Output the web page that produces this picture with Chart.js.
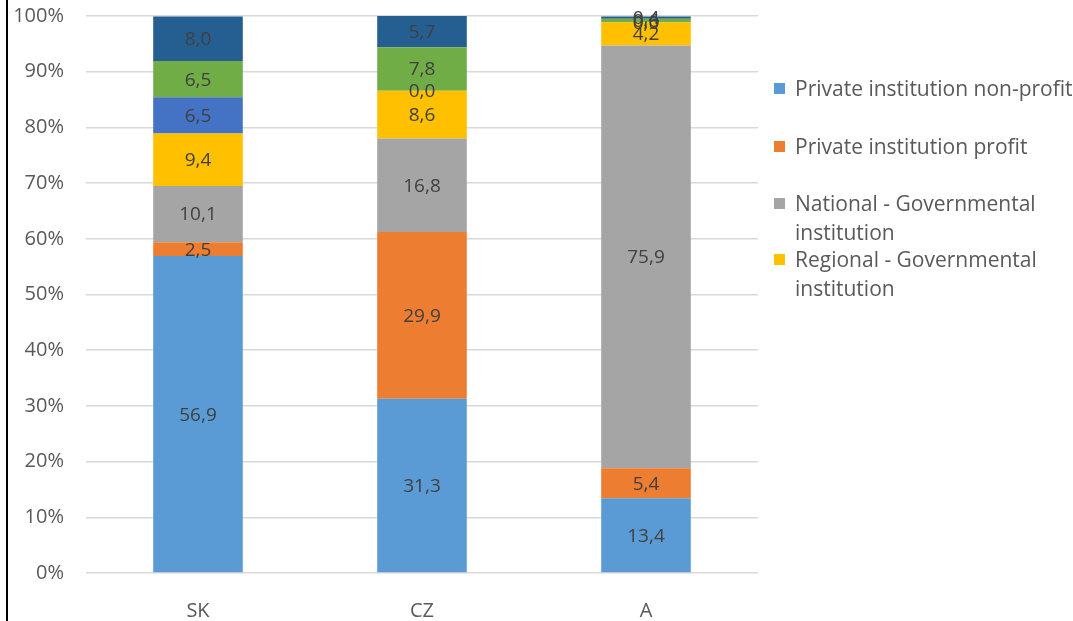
<!DOCTYPE html>
<html>
<head>
<meta charset="utf-8">
<script src="https://cdn.jsdelivr.net/npm/chart.js@4.4.0/dist/chart.umd.min.js"></script>
<style>
body{margin:0;background:#fff;}
#wrap{position:relative;width:1073px;height:621px;}
#frame{position:absolute;left:6px;top:0;width:2px;height:621px;background:#000;}
#legend{position:absolute;left:774px;top:0;font-family:"Open Sans",sans-serif;font-size:21px;color:#595959;}
.item{position:absolute;left:0;width:300px;line-height:29px;}
.sw{position:absolute;left:0;top:9px;width:11px;height:11px;}
.txt{position:absolute;left:21px;top:0;white-space:nowrap;}
</style>
</head>
<body>
<div id="wrap">
<canvas id="chart" width="1073" height="621"></canvas>
<div id="frame"></div>
<div id="legend"></div>
</div>
<script>
var countries=['SK','CZ','A'];
var nonProfit=[56.9,31.3,13.4];
var profit=[2.5,29.9,5.4];
var national=[10.1,16.8,75.9];
var regional=[9.4,8.6,4.2];
var municipal=[6.5,0.0,0.0];
var church=[6.5,7.8,0.6];
var other=[8.0,5.7,0.4];
var names=[['Private institution non-profit'],['Private institution profit'],
['National - Governmental','institution'],['Regional - Governmental','institution'],
['Municipal institution'],['Church institution'],['Other']];
var colors=['#5B9BD5','#ED7D31','#A5A5A5','#FFC000','#4472C4','#70AD47','#255E91'];
var series=[nonProfit,profit,national,regional,municipal,church,other];
var legendTops=[74,132,189,245];

var labelPlugin={
    id:'barLabels',
    afterDatasetsDraw:function(chart)
    {
        var ctx=chart.ctx;
        ctx.save();
        ctx.font='19px "Open Sans", sans-serif';
        ctx.fillStyle='#404040';
        ctx.textAlign='center';
        ctx.textBaseline='middle';
        chart.data.datasets.forEach(function(ds,i)
        {
            var meta=chart.getDatasetMeta(i);
            meta.data.forEach(function(bar,j)
            {
                var p=bar.getProps(['x','y','base'],true);
                var txt=ds.data[j].toFixed(1).replace('.',',');
                ctx.fillText(txt,p.x,(p.y+p.base)/2+1);
            });
        });
        ctx.restore();
    }
};

window.onload=function()
{
    var datasets=[];
    for(let i=0;i<series.length;i++)
    {
        datasets.push({
            label:names[i].join(' '),
            data:series[i],
            backgroundColor:colors[i],
            borderWidth:0,
            barPercentage:0.4,
            categoryPercentage:1
        });
    }
    new Chart(document.getElementById('chart').getContext('2d'),{
        type:'bar',
        data:{labels:countries,datasets:datasets},
        plugins:[labelPlugin],
        options:{
            responsive:false,
            animation:false,
            layout:{padding:{left:0,top:16,right:315,bottom:0}},
            plugins:{legend:{display:false},tooltip:{enabled:false}},
            scales:{
                x:{
                    stacked:true,
                    grid:{display:false},
                    border:{display:false},
                    ticks:{color:'#595959',padding:18,font:{family:'"Open Sans", sans-serif',size:20}},
                    afterFit:function(s){s.height=48;s.paddingLeft=0;s.paddingRight=0;}
                },
                y:{
                    stacked:true,
                    min:0,max:100,
                    border:{display:false},
                    grid:{color:'#D9D9D9',lineWidth:1.5,drawTicks:false},
                    ticks:{stepSize:10,padding:22,color:'#595959',font:{family:'"Open Sans", sans-serif',size:20},
                        callback:function(v){return v+'%';}},
                    afterFit:function(s){s.width=86;s.paddingTop=0;s.paddingBottom=0;}
                }
            }
        }
    });
    var legend=document.getElementById('legend');
    for(let i=0;i<4;i++)
    {
        var item=document.createElement('div');
        item.className='item';
        item.style.top=legendTops[i]+'px';
        item.innerHTML='<div class="sw" style="background:'+colors[i]+'"></div><div class="txt">'+names[i].join('<br>')+'</div>';
        legend.appendChild(item);
    }
}
</script>
</body>
</html>
